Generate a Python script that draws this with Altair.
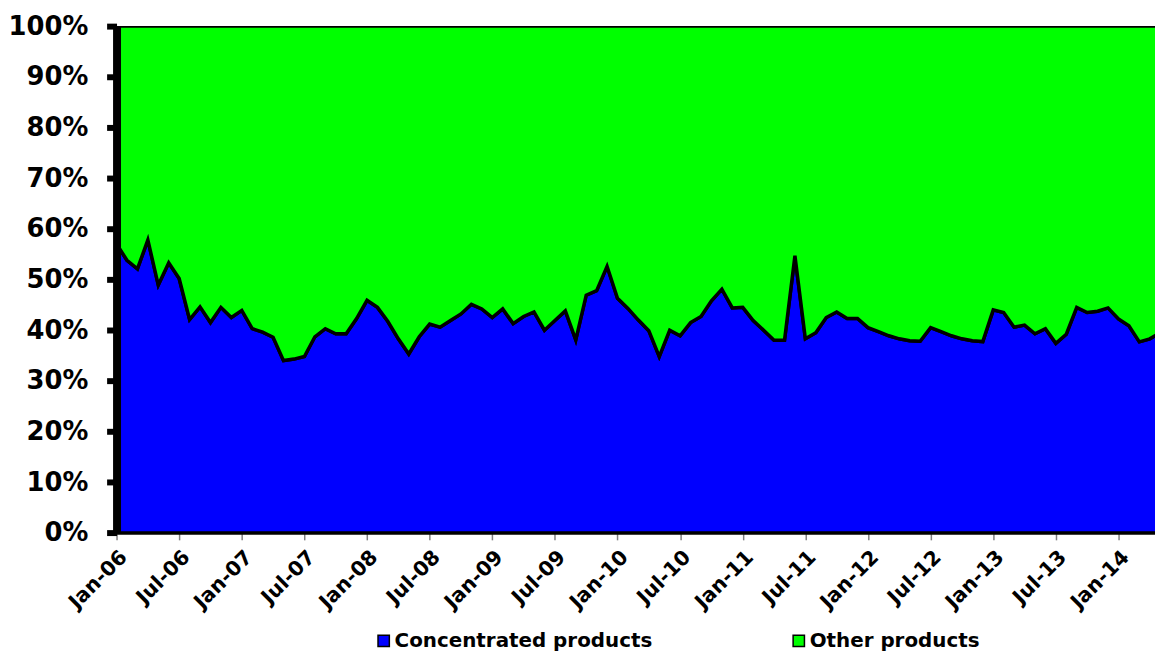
import altair as alt
import pandas as pd

# Share of concentrated products (%), monthly from Jan-06
concentrated = [
    57.0, 53.8, 52.1, 57.8, 48.9, 53.3, 50.2, 42.1, 44.6, 41.5,
    44.5, 42.5, 43.9, 40.3, 39.6, 38.6, 34.0, 34.3, 34.8, 38.7,
    40.3, 39.3, 39.3, 42.3, 45.9, 44.5, 41.7, 38.3, 35.3, 38.7,
    41.2, 40.6, 41.9, 43.2, 45.1, 44.2, 42.5, 44.2, 41.3, 42.7,
    43.6, 40.0, 41.9, 43.8, 38.1, 46.9, 47.8, 52.6, 46.3, 44.3,
    42.0, 39.9, 34.8, 40.0, 38.9, 41.5, 42.7, 45.8, 48.1, 44.4,
    44.5, 41.9, 40.0, 38.0, 38.0, 54.7, 38.3, 39.5, 42.5, 43.6,
    42.3, 42.3, 40.5, 39.7, 38.9, 38.3, 37.9, 37.8, 40.5, 39.7,
    38.9, 38.3, 37.9, 37.75, 44.0, 43.5, 40.6, 41.0, 39.3, 40.3,
    37.4, 39.2, 44.5, 43.5, 43.75, 44.4, 42.2, 40.85, 37.7, 38.3,
    39.5,
]
series_names = ["Concentrated products", "Other products"]
series_colors = ["#0000FF", "#00FF00"]
tick_labels = ["Jan-06", "Jul-06", "Jan-07", "Jul-07", "Jan-08", "Jul-08",
               "Jan-09", "Jul-09", "Jan-10", "Jul-10", "Jan-11", "Jul-11",
               "Jan-12", "Jul-12", "Jan-13", "Jul-13", "Jan-14"]
tick_months = [6 * k for k in range(len(tick_labels))]
y_ticks = [k / 10 for k in range(11)]

rows = []
for i, v in enumerate(concentrated):
    rows.append({"month": i, "series": series_names[0], "share": v / 100, "ord": 0})
    rows.append({"month": i, "series": series_names[1], "share": (100 - v) / 100, "ord": 1})
df = pd.DataFrame(rows)

label_expr = "[" + ",".join("'%s'" % t for t in tick_labels) + "][round(datum.value / 6)]"

FONT = "DejaVu Sans"

chart = alt.Chart(df).mark_area(
    stroke="black", strokeWidth=3.5, clip=True, opacity=1, interpolate="linear"
).encode(
    x=alt.X(
        "month:Q",
        scale=alt.Scale(domain=[0, 99.5], nice=False, zero=False),
        axis=alt.Axis(
            values=tick_months, labelExpr=label_expr, labelAngle=-45,
            labelAlign="right", labelBaseline="top", title=None, grid=False,
            labelFont=FONT, labelFontSize=20.5, labelFontWeight="bold",
            labelColor="black", labelPadding=7, labelOverlap=False,
            tickSize=7, tickWidth=1.5, tickColor="#808080",
            domainColor="black", domainWidth=3, zindex=1,
        ),
    ),
    y=alt.Y(
        "share:Q", stack="zero",
        scale=alt.Scale(domain=[0, 1], nice=False),
        axis=alt.Axis(
            values=y_ticks, format=".0%", title=None, grid=False,
            labelFont=FONT, labelFontSize=26, labelFontWeight="bold",
            labelColor="black", labelPadding=19,
            tickSize=10, tickWidth=6, tickColor="black",
            domainColor="black", domainWidth=8, zindex=1,
        ),
    ),
    color=alt.Color(
        "series:N",
        scale=alt.Scale(domain=series_names, range=series_colors),
        legend=alt.Legend(
            title=None, orient="none", legendX=259, legendY=609,
            direction="horizontal", columnPadding=137, labelOffset=1,
            symbolType="square", symbolSize=130, symbolStrokeColor="black",
            symbolStrokeWidth=1.5, symbolOpacity=1,
            labelFont=FONT, labelFontSize=20, labelFontWeight="bold",
            labelColor="black", labelLimit=500, padding=0,
        ),
    ),
    order=alt.Order("ord:Q"),
).properties(
    width=1045.7, height=510.3,
    autosize=alt.AutoSizeParams(type="none"),
    padding={"left": 109.3, "top": 16, "right": 0, "bottom": 119},
    background="white",
).configure_view(stroke=None)

chart.save("out.html", embed_options={"renderer": "svg", "actions": False})
